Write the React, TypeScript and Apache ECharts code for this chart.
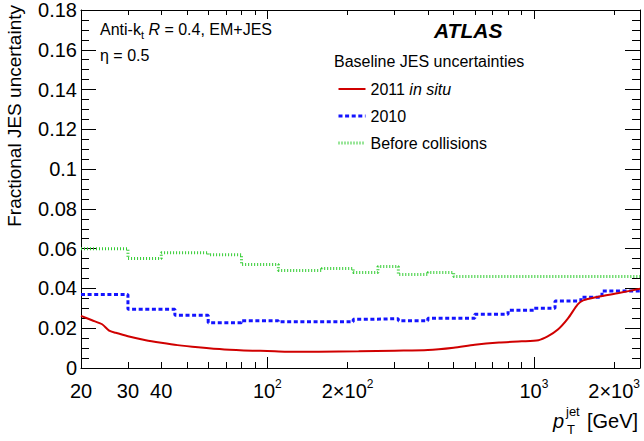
import React, { useEffect, useRef } from 'react';
import * as echarts from 'echarts';

const FONT = 'Liberation Sans, Arial, Helvetica, sans-serif';

// x axis (pT in GeV, log scale)
const xMin = 20;
const xMax = 2500;
const xLabelValues = [20, 30, 40, 100, 200, 1000, 2000];
const xLabelTexts = ['{b|20}', '{b|30}', '{b|40}', '{b|10}{s|2}', '{b|2×10}{s|2}', '{b|10}{s|3}', '{b|2×10}{s|3}'];
const xMajorTicks = [100, 1000];
const xMinorTicks = [30, 40, 50, 60, 70, 80, 90, 200, 300, 400, 500, 600, 700, 800, 900, 2000];

// y axis
const yMin = 0;
const yMax = 0.18;
const yStep = 0.02;

// 2011 in situ (smooth curve)
const insituPt = [20, 22, 24, 25.5, 27, 30, 35, 40, 46, 55, 69, 88, 100, 118, 156, 220, 300, 400, 500, 600, 740, 900, 1040, 1130, 1230, 1340, 1460, 1530, 1730, 2080, 2500];
const insituVal = [0.0262, 0.0240, 0.0220, 0.0188, 0.0177, 0.0160, 0.0140, 0.0127, 0.0115, 0.0104, 0.0093, 0.0087, 0.0086, 0.0082, 0.0082, 0.0084, 0.0087, 0.0090, 0.0102, 0.0117, 0.0128, 0.0134, 0.0140, 0.0160, 0.0193, 0.0248, 0.0320, 0.0340, 0.0357, 0.0377, 0.0398];

// 2010 (step histogram): bin edges and bin values
const y2010Edges = [20, 30, 45, 60, 80, 110, 210, 250, 310, 400, 600, 800, 1000, 1200, 1500, 1800, 2500];
const y2010Val = [0.037, 0.0295, 0.0265, 0.0228, 0.0238, 0.0232, 0.0245, 0.0248, 0.0238, 0.025, 0.027, 0.029, 0.030, 0.0337, 0.0356, 0.0387];

// Before collisions (step histogram)
const beforeEdges = [20, 30, 40, 60, 80, 110, 160, 210, 260, 310, 400, 500, 2500];
const beforeVal = [0.060, 0.055, 0.058, 0.057, 0.052, 0.049, 0.050, 0.048, 0.051, 0.047, 0.048, 0.046];

const seriesNames = ['2011 in situ', '2010', 'Before collisions'];
const colors = ['#d00000', '#1414ff', '#33cc33'];

const lg = (v: number) => Math.log10(v);

function stepData(edges: number[], vals: number[]) {
  return edges.map((e, i) => [lg(e), vals[Math.min(i, vals.length - 1)]]);
}

export default function App() {
  const ref = useRef<HTMLDivElement>(null);
  useEffect(() => {
    if (!ref.current) return;
    const chart = echarts.init(ref.current, undefined, { renderer: 'svg' });
    const gridX = {
      type: 'value',
      min: lg(xMin),
      max: lg(xMax),
      splitLine: { show: false },
    };
    const labelFmt = (v: number) => {
      const i = xLabelValues.findIndex((x) => Math.abs(lg(x) - v) < 1e-6);
      return i >= 0 ? xLabelTexts[i] : '';
    };
    const option: any = {
      animation: false,
      grid: { left: 81, right: 4, top: 8, bottom: 73, containLabel: false },
      xAxis: [
        {
          ...gridX,
          position: 'bottom',
          axisLine: { show: true, lineStyle: { color: '#000', width: 1 } },
          axisTick: { show: true, inside: true, length: 11, customValues: xMajorTicks.map(lg), lineStyle: { color: '#000' } },
          axisLabel: {
            show: true,
            customValues: xLabelValues.map(lg),
            formatter: labelFmt,
            margin: 10,
            color: '#000',
            fontSize: 20,
            fontFamily: FONT,
            rich: {
              b: { fontSize: 20, fontFamily: FONT, color: '#000', lineHeight: 26 },
              s: { fontSize: 12, fontFamily: FONT, color: '#000', padding: [0, 0, 14, 0] },
            },
          },
        },
        {
          ...gridX,
          position: 'bottom',
          axisLine: { show: false },
          axisTick: { show: true, inside: true, length: 6, customValues: xMinorTicks.map(lg), lineStyle: { color: '#000' } },
          axisLabel: { show: false },
        },
        {
          ...gridX,
          position: 'top',
          axisLine: { show: true, lineStyle: { color: '#000', width: 1 } },
          axisTick: { show: true, inside: true, length: 9, customValues: xMajorTicks.map(lg), lineStyle: { color: '#000' } },
          axisLabel: { show: false },
        },
        {
          ...gridX,
          position: 'top',
          axisLine: { show: false },
          axisTick: { show: true, inside: true, length: 5, customValues: xMinorTicks.map(lg), lineStyle: { color: '#000' } },
          axisLabel: { show: false },
        },
      ],
      yAxis: [
        {
          type: 'value',
          min: yMin,
          max: yMax,
          interval: yStep,
          position: 'left',
          splitLine: { show: false },
          axisLine: { show: true, lineStyle: { color: '#000', width: 1 } },
          axisTick: { show: true, inside: true, length: 15, lineStyle: { color: '#000' } },
          minorTick: { show: true, splitNumber: 4, length: 8, lineStyle: { color: '#000' } },
          axisLabel: { show: true, margin: 4, color: '#000', fontSize: 20, fontFamily: FONT },
        },
        {
          type: 'value',
          min: yMin,
          max: yMax,
          interval: yStep,
          position: 'right',
          splitLine: { show: false },
          axisLine: { show: true, lineStyle: { color: '#000', width: 1 } },
          axisTick: { show: true, inside: true, length: 15, lineStyle: { color: '#000' } },
          minorTick: { show: true, splitNumber: 4, length: 8, lineStyle: { color: '#000' } },
          axisLabel: { show: false },
        },
      ],
      legend: {
        orient: 'vertical',
        left: 332,
        top: 76,
        itemWidth: 27,
        itemHeight: 14,
        itemGap: 11,
        selectedMode: false,
        textStyle: {
          fontSize: 16,
          color: '#000',
          fontFamily: FONT,
          rich: { i: { fontSize: 16, fontStyle: 'italic', color: '#000', fontFamily: FONT } },
        },
        formatter: (name: string) => (name === '2011 in situ' ? '2011 {i|in situ}' : name),
        data: [
          { name: seriesNames[0], itemStyle: { opacity: 0 }, lineStyle: { width: 2 } },
          { name: seriesNames[1], itemStyle: { opacity: 0 }, lineStyle: { width: 3 } },
          { name: seriesNames[2], itemStyle: { opacity: 0 }, lineStyle: { width: 3 } },
        ],
      },
      series: [
        {
          name: seriesNames[0],
          type: 'line',
          xAxisIndex: 0,
          yAxisIndex: 0,
          data: insituPt.map((p, i) => [lg(p), insituVal[i]]),
          symbol: 'none',
          smooth: 0.25,
          z: 5,
          lineStyle: { color: colors[0], width: 2 },
          itemStyle: { color: colors[0] },
        },
        {
          name: seriesNames[1],
          type: 'line',
          xAxisIndex: 0,
          yAxisIndex: 0,
          step: 'end',
          data: stepData(y2010Edges, y2010Val),
          symbol: 'none',
          z: 4,
          lineStyle: { color: colors[1], width: 3, type: [4, 2.6] },
          itemStyle: { color: colors[1] },
        },
        {
          name: seriesNames[2],
          type: 'line',
          xAxisIndex: 0,
          yAxisIndex: 0,
          step: 'end',
          data: stepData(beforeEdges, beforeVal),
          symbol: 'none',
          z: 3,
          lineStyle: { color: colors[2], width: 3, type: [1, 2] },
          itemStyle: { color: colors[2] },
        },
      ],
      graphic: [
        {
          type: 'text',
          x: 100,
          y: 29,
          style: {
            text: '{n|Anti-k}{sub|t}{n| }{i|R}{n| = 0.4, EM+JES}',
            verticalAlign: 'middle',
            rich: {
              n: { fontSize: 16, fontFamily: FONT, fill: '#000' },
              i: { fontSize: 16, fontFamily: FONT, fontStyle: 'italic', fill: '#000' },
              sub: { fontSize: 11, fontFamily: FONT, fill: '#000', padding: [11, 0, 0, 0] },
            },
          },
        },
        {
          type: 'text',
          x: 100,
          y: 55,
          style: { text: 'η = 0.5', fontSize: 16, fontFamily: FONT, fill: '#000', verticalAlign: 'middle' },
        },
        {
          type: 'text',
          x: 434,
          y: 30,
          style: { text: 'ATLAS', fontSize: 21, fontWeight: 'bold', fontStyle: 'italic', fontFamily: FONT, fill: '#000', verticalAlign: 'middle' },
        },
        {
          type: 'text',
          x: 334,
          y: 61.5,
          style: { text: 'Baseline JES uncertainties', fontSize: 16, fontFamily: FONT, fill: '#000', verticalAlign: 'middle' },
        },
        {
          type: 'text',
          x: 14,
          y: 5,
          rotation: Math.PI / 2,
          style: { text: 'Fractional JES uncertainty', fontSize: 19, fontFamily: FONT, fill: '#000', align: 'right', verticalAlign: 'middle' },
        },
        {
          type: 'text',
          x: 553,
          y: 421,
          style: { text: 'p', fontSize: 20, fontStyle: 'italic', fontFamily: FONT, fill: '#000', verticalAlign: 'middle' },
        },
        {
          type: 'text',
          x: 566,
          y: 411,
          style: { text: 'jet', fontSize: 13, fontFamily: FONT, fill: '#000', verticalAlign: 'middle' },
        },
        {
          type: 'text',
          x: 567,
          y: 429,
          style: { text: 'T', fontSize: 13, fontFamily: FONT, fill: '#000', verticalAlign: 'middle' },
        },
        {
          type: 'text',
          x: 587,
          y: 421,
          style: { text: '[GeV]', fontSize: 20, fontFamily: FONT, fill: '#000', verticalAlign: 'middle' },
        },
      ],
    };
    chart.setOption(option);
    return () => chart.dispose();
  }, []);
  return <div ref={ref} style={{ width: 644, height: 441, position: 'absolute', left: 0, top: 0, background: '#fff' }} />;
}
